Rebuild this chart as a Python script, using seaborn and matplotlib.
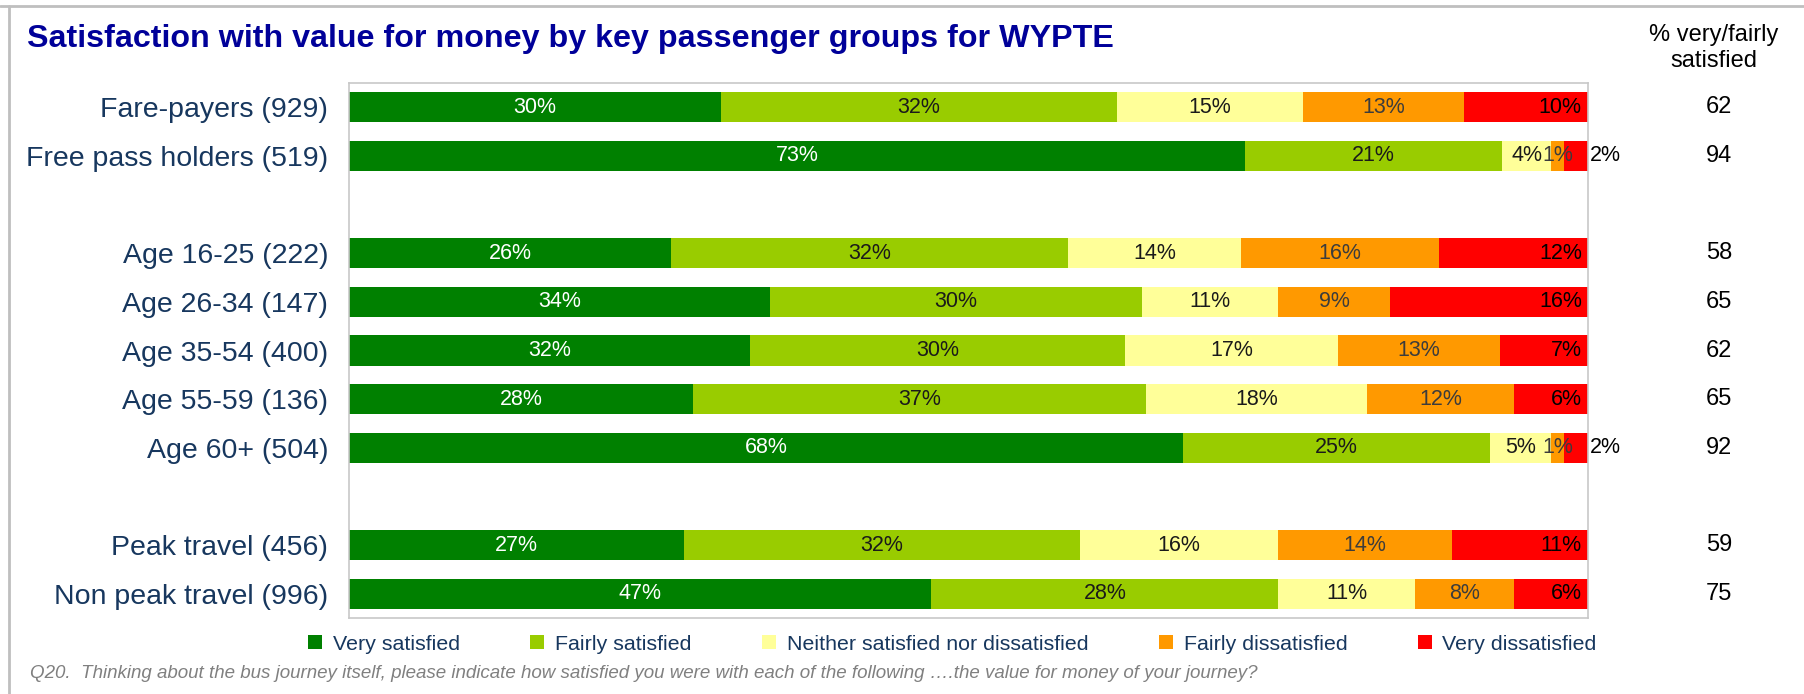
import pandas as pd
import seaborn as sns
import matplotlib.pyplot as plt
import matplotlib.transforms as mtransforms
from matplotlib.patches import Patch
from matplotlib.lines import Line2D

groups = ["Fare-payers (929)", "Free pass holders (519)", "Age 16-25 (222)", "Age 26-34 (147)",
          "Age 35-54 (400)", "Age 55-59 (136)", "Age 60+ (504)", "Peak travel (456)",
          "Non peak travel (996)"]
very_satisfied = [30, 73, 26, 34, 32, 28, 68, 27, 47]
fairly_satisfied = [32, 21, 32, 30, 30, 37, 25, 32, 28]
neither = [15, 4, 14, 11, 17, 18, 5, 16, 11]
fairly_dissatisfied = [13, 1, 16, 9, 13, 12, 1, 14, 8]
very_dissatisfied = [10, 2, 12, 16, 7, 6, 2, 11, 6]
pct_satisfied = [62, 94, 58, 65, 62, 65, 92, 59, 75]

levels = ["Very satisfied", "Fairly satisfied", "Neither satisfied nor dissatisfied",
          "Fairly dissatisfied", "Very dissatisfied"]
colors = ["#008000", "#99CC00", "#FFFF99", "#FF9900", "#FF0000"]
label_colors = ["white", "#1a1a1a", "#1a1a1a", "#3c3c3c", "#000000"]

# blank rows separate the three blocks of groups
order = groups[:2] + [""] + groups[2:7] + [" "] + groups[7:]

df = pd.DataFrame(dict(zip(levels, [very_satisfied, fairly_satisfied, neither,
                                    fairly_dissatisfied, very_dissatisfied])), index=groups)
# 100% stacked: each row scaled to its own total
shares = df.div(df.sum(axis=1), axis=0) * 100
cum = shares.cumsum(axis=1)

sns.set_theme(style="white")
plt.rcParams["font.family"] = ["Liberation Sans", "DejaVu Sans"]

fig = plt.figure(figsize=(18.04, 6.94), dpi=100)
ax = fig.add_axes([0.1935, 0.1095, 0.6868, 0.7709])

# stacked bars: draw cumulative totals from the outermost segment inwards
for i in reversed(range(len(levels))):
    sns.barplot(x=cum[levels[i]].values, y=cum.index, order=order, orient="h",
                color=colors[i], saturation=1, width=0.62, linewidth=0,
                errorbar=None, ax=ax)

lab_size = 15.5
for g in groups:
    ypos = order.index(g)
    for i, lev in enumerate(levels):
        v = df.loc[g, lev]
        w = shares.loc[g, lev]
        left = cum.loc[g, lev] - w
        if i == len(levels) - 1:
            if v < 3:
                ax.text(100.15, ypos, f"{v}%", ha="left", va="center", fontsize=lab_size,
                        color="black", clip_on=False)
            else:
                ax.text(99.5, ypos, f"{v}%", ha="right", va="center", fontsize=lab_size,
                        color=label_colors[i])
        else:
            ax.text(left + w / 2, ypos, f"{v}%", ha="center", va="center", fontsize=lab_size,
                    color=label_colors[i])

ax.set_xlim(0, 100)
ax.set_xticks([])
ax.set_xlabel("")
ax.set_ylabel("")
ax.tick_params(axis="y", length=0, pad=15, labelsize=20.5, labelcolor="#17375E")
for sp in ax.spines.values():
    sp.set_color("#C8C8C8")
    sp.set_linewidth(1.2)

# right-hand column
trans = mtransforms.blended_transform_factory(fig.transFigure, ax.transData)
for g, p in zip(groups, pct_satisfied):
    ax.text(1719 / 1804, order.index(g), str(p), transform=trans, ha="center",
            va="center", fontsize=17, color="black")
fig.text(1714 / 1804, 1 - 48 / 694, "% very/fairly\nsatisfied", ha="center", va="center",
         fontsize=17, color="black", linespacing=1.25)

fig.text(27 / 1804, 1 - 47 / 694, "Satisfaction with value for money by key passenger groups for WYPTE",
         ha="left", va="baseline", fontsize=23.2, weight="bold", color="#000099")

handles = [Patch(facecolor=c, edgecolor="none", label=l) for c, l in zip(colors, levels)]
fig.legend(handles=handles, loc="center", bbox_to_anchor=(0.528, 1 - 644 / 694), ncol=5,
           frameon=False, fontsize=15.4, labelcolor="#17375E", handlelength=0.65,
           handleheight=0.65, handletextpad=0.5, columnspacing=3.3)

fig.text(30 / 1804, 1 - 674 / 694,
         "Q20.  Thinking about the bus journey itself, please indicate how satisfied you were with each of the following \u2026.the value for money of your journey?",
         ha="left", va="center", fontsize=13.5, style="italic", color="#808080")

# slide frame fragments
fig.add_artist(Line2D([0, 1], [1 - 6 / 694, 1 - 6 / 694], transform=fig.transFigure,
                      color="#BFBFBF", lw=2))
fig.add_artist(Line2D([9 / 1804, 9 / 1804], [0, 1 - 6 / 694], transform=fig.transFigure,
                      color="#BFBFBF", lw=2))

fig.savefig("out.png", dpi=100)
